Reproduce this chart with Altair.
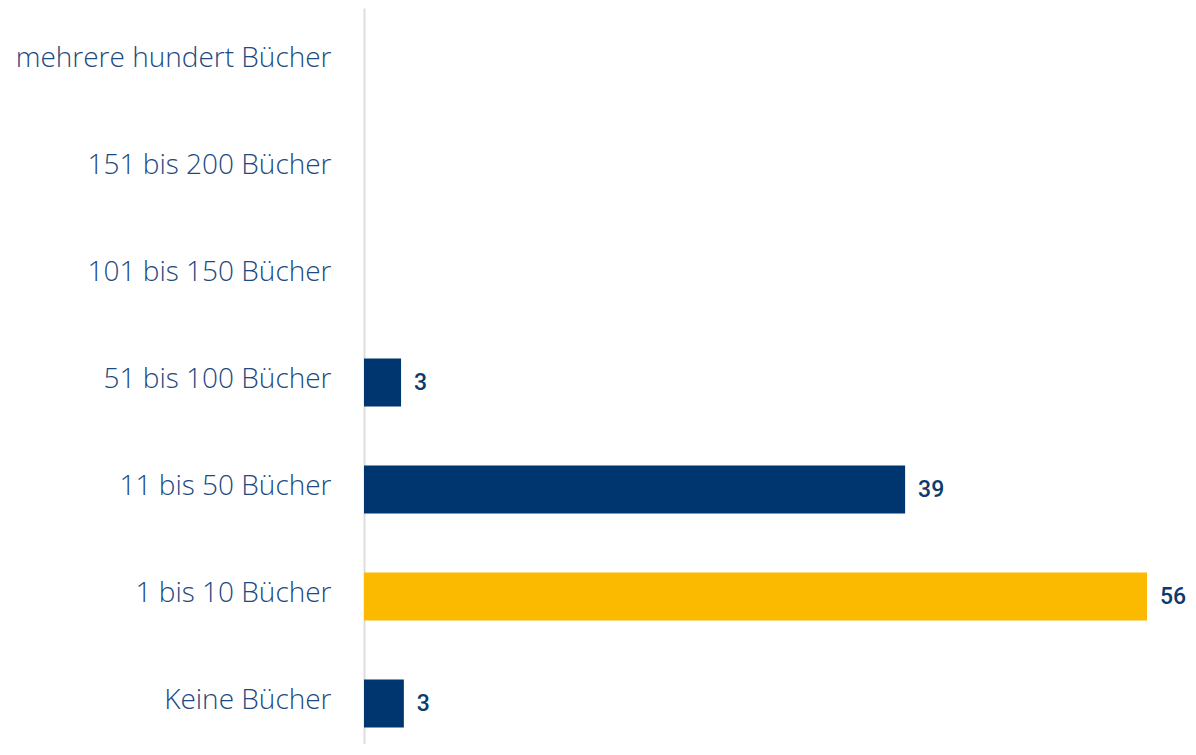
import altair as alt
import pandas as pd

categories = [
    "mehrere hundert Bücher",
    "151 bis 200 Bücher",
    "101 bis 150 Bücher",
    "51 bis 100 Bücher",
    "11 bis 50 Bücher",
    "1 bis 10 Bücher",
    "Keine Bücher",
]
values = [0, 0, 0, 2.65, 38.7, 56, 2.85]
highlight = [False, False, False, False, False, True, False]

df = pd.DataFrame({"cat": categories, "val": values, "hl": highlight})

y_enc = alt.Y(
    "cat:N",
    sort=categories,
    title=None,
    scale=alt.Scale(paddingInner=0.55, paddingOuter=0.275, range=[0, 749]),
    axis=alt.Axis(
        ticks=False,
        grid=False,
        domainColor="#dddddd",
        domainWidth=2,
        labelFont="Open Sans",
        labelFontSize=28,
        labelFontWeight=300,
        labelColor="#1d4a80",
        labelPadding=33,
        labelOffset=-3,
        labelLimit=400,
    ),
)
x_enc = alt.X("val:Q", axis=None, scale=alt.Scale(domain=[0, 56], nice=False))

bars = alt.Chart(df).mark_bar().encode(
    y=y_enc,
    x=x_enc,
    color=alt.Color(
        "hl:N",
        scale=alt.Scale(domain=[False, True], range=["#003670", "#FBBA00"]),
        legend=None,
    ),
)

text = (
    alt.Chart(df)
    .transform_filter("datum.val > 0")
    .mark_text(
        align="left",
        baseline="middle",
        dx=13,
        font="Roboto",
        fontSize=23,
        fontWeight=500,
        color="#0c3b6e",
    )
    .encode(y=alt.Y("cat:N", sort=categories), x="val:Q", text=alt.Text("val:Q", format=".0f"))
)

chart = (
    alt.layer(bars, text)
    .properties(
        width=783,
        height=736,
        autosize=alt.AutoSizeParams(type="none"),
        padding={"left": 356, "top": 0, "right": 41, "bottom": 0},
    )
    .configure_view(stroke=None)
)

chart.save("out.html", embed_options={"renderer": "svg", "actions": False})
